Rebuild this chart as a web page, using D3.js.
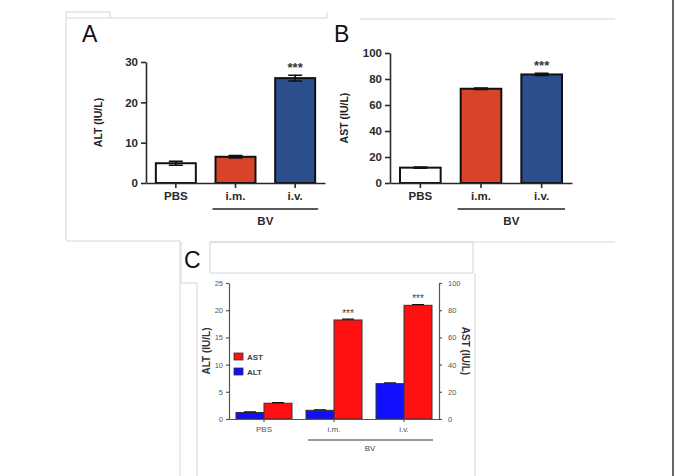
<!DOCTYPE html>
<html>
<head>
<meta charset="utf-8">
<script src="https://cdn.jsdelivr.net/npm/d3@7"></script>
<style>
  body { margin: 0; background: #fff; }
  svg { display: block; font-family: "Liberation Sans", Arial, sans-serif; }
</style>
</head>
<body>
<div id="vis"></div>
<script>
// values
const CATEGORIES = ["PBS", "i.m.", "i.v."];
const ALT_MEAN = [4.9, 6.5, 26.0];
const ALT_ERR = [0.5, 0.3, 0.7];
const AST_MEAN = [11.8, 72.5, 83.5];
const AST_ERR = [0.4, 0.6, 0.8];
const A_STARS = [false, false, true];
const B_STARS = [false, false, true];
const A_TICKS = [0, 10, 20, 30];
const B_TICKS = [0, 20, 40, 60, 80, 100];

// panel C (ALT on left axis, AST on right axis)
const C_ALT = [1.2, 1.6, 6.5];
const C_ALT_ERR = [0.1, 0.1, 0.15];
const C_AST = [11.6, 72.8, 83.6];
const C_AST_ERR = [0.4, 0.6, 0.6];
const C_STARS = [false, true, true];
const C_LEFT_TICKS = [0, 5, 10, 15, 20, 25];
const C_RIGHT_TICKS = [0, 20, 40, 60, 80, 100];
const LEGEND = ["AST", "ALT"];

const WIDTH = 676, HEIGHT = 476;
const BAR_COLORS = ["#ffffff", "#d8432a", "#2b4f8d"];
const C_RED = "#ff1010", C_BLUE = "#1010ff";

const svg = d3.select("#vis").append("svg")
  .attr("width", WIDTH).attr("height", HEIGHT);

// faint panel frames
const frames = [
  [[66, 240], [66, 18], [110, 18], [110, 12], [66, 12], [66, 18]],
  [[110, 18], [327, 18], [327, 12]],
  [[66, 241], [180, 241], [180, 476]],
  [[210, 242], [615, 242]],
  [[360, 19], [615, 19]],
  [[181, 242], [181, 283], [197, 283]],
  [[210, 242], [473, 242], [473, 273], [210, 273], [210, 242]],
  [[197, 283], [197, 476]],
  [[475, 273], [475, 476]]
];
frames.forEach(f => {
  svg.append("path").attr("d", d3.line()(f))
    .attr("fill", "none").attr("stroke", "#d6d6d6").attr("stroke-width", 1);
});
svg.append("line").attr("x1", 673).attr("x2", 673).attr("y1", 0).attr("y2", HEIGHT)
  .attr("stroke", "#333").attr("stroke-width", 1.5);

function panelLetter(t, x, y) {
  svg.append("text").attr("x", x).attr("y", y).text(t)
    .attr("font-size", "23px").attr("fill", "#111");
}
panelLetter("A", 82, 42);
panelLetter("B", 334, 42);
panelLetter("C", 184, 268);

function styleAxis(g, color, size, width, weight) {
  g.selectAll("path, line").attr("stroke", color).attr("stroke-width", width);
  g.selectAll("text").attr("fill", color).attr("font-size", size)
    .attr("font-weight", weight || "normal");
}

// panels A and B share a layout
function buildSingle(opt) {
  const x = d3.scaleBand().domain(CATEGORIES).range([opt.x0, opt.x1]);
  const y = d3.scaleLinear().domain([0, opt.max]).range([183, opt.top]);
  const bw = x.bandwidth() * 0.67;

  const yAxis = svg.append("g").attr("transform", `translate(${opt.x0},0)`)
    .call(d3.axisLeft(y).tickValues(opt.ticks).tickSize(5).tickSizeOuter(0).tickPadding(3));
  styleAxis(yAxis, "#2a2a2a", "11.5px", 1.6, "bold");

  svg.selectAll(null).data(opt.mean).enter().append("rect")
    .attr("x", (d, i) => x(CATEGORIES[i]) + (x.bandwidth() - bw) / 2)
    .attr("y", d => y(d))
    .attr("width", bw)
    .attr("height", d => y(0) - y(d))
    .attr("fill", (d, i) => BAR_COLORS[i])
    .attr("stroke", "#111").attr("stroke-width", 2);

  // error bars
  opt.mean.forEach((d, i) => {
    const cx = x(CATEGORIES[i]) + x.bandwidth() / 2;
    const e = opt.err[i];
    svg.append("path")
      .attr("d", `M${cx - 7},${y(d + e)}H${cx + 7}M${cx},${y(d + e)}V${y(d - e)}M${cx - 7},${y(d - e)}H${cx + 7}`)
      .attr("stroke", "#111").attr("stroke-width", 1.6).attr("fill", "none");
    if (opt.stars[i]) {
      svg.append("text").attr("x", cx).attr("y", y(d + e) - 3)
        .attr("text-anchor", "middle").attr("font-size", "13px")
        .attr("font-weight", "bold").attr("fill", "#333").text("***");
    }
  });

  const xAxis = svg.append("g").attr("transform", "translate(0,183)")
    .call(d3.axisBottom(x).tickSize(5).tickSizeOuter(0).tickPadding(4));
  styleAxis(xAxis, "#2a2a2a", "11.5px", 1.6, "bold");

  // BV grouping bar
  const bx0 = x("i.m.") + (x.bandwidth() - bw) / 2 - 3;
  const bx1 = x("i.v.") + (x.bandwidth() + bw) / 2 + 3;
  svg.append("line").attr("x1", bx0).attr("x2", bx1).attr("y1", 209).attr("y2", 209)
    .attr("stroke", "#222").attr("stroke-width", 1.6);
  svg.append("text").attr("x", (bx0 + bx1) / 2).attr("y", 225)
    .attr("text-anchor", "middle").attr("font-size", "11.5px").attr("font-weight", "bold")
    .attr("fill", "#2a2a2a").text("BV");

  svg.append("text")
    .attr("transform", `translate(${opt.titleX},${(183 + opt.top) / 2}) rotate(-90)`)
    .attr("text-anchor", "middle").attr("font-size", "10.5px").attr("font-weight", "bold")
    .attr("fill", "#222").text(opt.title);
}

buildSingle({ x0: 146, x1: 325, max: 30, top: 62, ticks: A_TICKS,
  mean: ALT_MEAN, err: ALT_ERR, stars: A_STARS, title: "ALT (IU/L)", titleX: 102 });
buildSingle({ x0: 390, x1: 572, max: 100, top: 53, ticks: B_TICKS,
  mean: AST_MEAN, err: AST_ERR, stars: B_STARS, title: "AST (IU/L)", titleX: 348 });

// panel C: grouped bars on two axes
const cx0 = 229, cx1 = 439, cy0 = 419, cyTop = 283;
const xC = d3.scaleBand().domain(CATEGORIES).range([cx0, cx1]);
const sub = d3.scaleBand().domain(["ALT", "AST"]).range([0, 56]);
const yL = d3.scaleLinear().domain([0, 25]).range([cy0, cyTop]);
const yR = d3.scaleLinear().domain([0, 100]).range([cy0, cyTop]);
const off = (xC.bandwidth() - 56) / 2;

const gl = svg.append("g").attr("transform", `translate(${cx0},0)`)
  .call(d3.axisLeft(yL).tickValues(C_LEFT_TICKS).tickSize(3).tickSizeOuter(0).tickPadding(3));
styleAxis(gl, "#555", "7.5px", 1.2);
const gr = svg.append("g").attr("transform", `translate(${cx1},0)`)
  .call(d3.axisRight(yR).tickValues(C_RIGHT_TICKS).tickSize(3).tickSizeOuter(0).tickPadding(6));
styleAxis(gr, "#555", "7.5px", 1.2);

function cBars(vals, errs, key, scale, color) {
  svg.selectAll(null).data(vals).enter().append("rect")
    .attr("x", (d, i) => xC(CATEGORIES[i]) + off + sub(key))
    .attr("y", d => scale(d))
    .attr("width", sub.bandwidth())
    .attr("height", d => scale(0) - scale(d))
    .attr("fill", color).attr("stroke", "#333").attr("stroke-width", 1);
  vals.forEach((d, i) => {
    const c = xC(CATEGORIES[i]) + off + sub(key) + sub.bandwidth() / 2;
    svg.append("path")
      .attr("d", `M${c - 6},${scale(d + errs[i])}H${c + 6}M${c},${scale(d + errs[i])}V${scale(d)}`)
      .attr("stroke", "#111").attr("stroke-width", 1.2);
  });
}
cBars(C_ALT, C_ALT_ERR, "ALT", yL, C_BLUE);
cBars(C_AST, C_AST_ERR, "AST", yR, C_RED);

C_AST.forEach((d, i) => {
  if (!C_STARS[i]) return;
  const c = xC(CATEGORIES[i]) + off + sub("AST") + sub.bandwidth() / 2;
  svg.append("text").attr("x", c).attr("y", yR(d + C_AST_ERR[i]) - 2)
    .attr("text-anchor", "middle").attr("font-size", "10px").attr("fill", "#444").text("***");
});

const gx = svg.append("g").attr("transform", `translate(0,${cy0})`)
  .call(d3.axisBottom(xC).tickSize(3).tickSizeOuter(0).tickPadding(4));
styleAxis(gx, "#555", "8px", 1.2);

svg.append("line").attr("x1", 308).attr("x2", 433).attr("y1", 440).attr("y2", 440)
  .attr("stroke", "#333").attr("stroke-width", 1.2);
svg.append("text").attr("x", 370).attr("y", 451).attr("text-anchor", "middle")
  .attr("font-size", "8px").attr("fill", "#444").text("BV");

svg.append("text").attr("transform", `translate(210,${(cy0 + cyTop) / 2}) rotate(-90)`)
  .attr("text-anchor", "middle").attr("font-size", "10px").attr("font-weight", "bold")
  .attr("fill", "#333").text("ALT (IU/L)");
svg.append("text").attr("transform", `translate(462,${(cy0 + cyTop) / 2}) rotate(90)`)
  .attr("text-anchor", "middle").attr("font-size", "10px").attr("font-weight", "bold")
  .attr("fill", "#333").text("AST (IU/L)");

// legend
const legend = svg.selectAll(null).data(LEGEND).enter().append("g")
  .attr("transform", (d, i) => `translate(234,${353 + i * 15})`);
legend.append("rect").attr("width", 9).attr("height", 7)
  .attr("fill", d => d === "AST" ? C_RED : C_BLUE).attr("stroke", "#333").attr("stroke-width", 0.8);
legend.append("text").attr("x", 13).attr("y", 7).attr("font-size", "8px")
  .attr("font-weight", "bold").attr("fill", "#444").text(d => d);
</script>
</body>
</html>
